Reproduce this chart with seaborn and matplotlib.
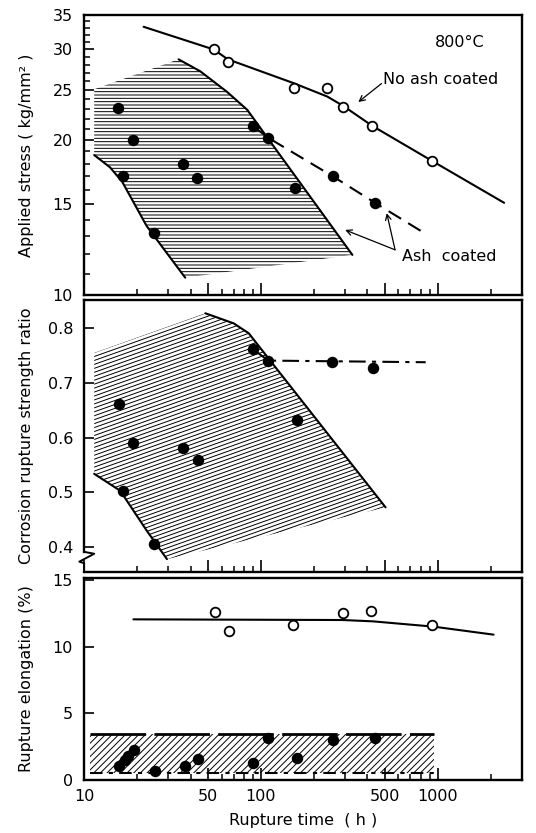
import numpy as np
import matplotlib.pyplot as plt
import seaborn as sns
from matplotlib.patches import Polygon, Rectangle
from matplotlib.collections import LineCollection
from matplotlib.ticker import FixedLocator, FixedFormatter, NullFormatter

sns.set_style("ticks")
plt.rcParams['font.family'] = ['DejaVu Sans']
plt.rcParams['hatch.linewidth'] = 0.7
plt.rcParams['hatch.color'] = 'black'
plt.rcParams['text.color'] = 'black'
plt.rcParams['axes.labelcolor'] = 'black'
plt.rcParams['axes.edgecolor'] = 'black'
plt.rcParams['xtick.color'] = 'black'
plt.rcParams['ytick.color'] = 'black'

# ---- top panel: applied stress
t_open = [54, 65, 153, 237, 292, 427, 933]
stress_open = [30.0, 28.4, 25.3, 25.3, 23.2, 21.3, 18.2]
t_open_curve = [21.7, 54, 65, 153, 237, 292, 427, 933, 2375]
stress_open_curve = [33.2, 30.0, 28.7, 25.8, 24.3, 23.3, 21.3, 18.2, 15.1]

t_ash = [15.6, 18.8, 16.6, 24.9, 36.2, 43.5, 90, 110, 155, 255, 442]
stress_ash = [23.1, 20.0, 17.0, 13.2, 18.0, 16.9, 21.3, 20.2, 16.1, 17.0, 15.1]
t_ash_curve = [90, 110, 255, 442, 836]
stress_ash_curve = [21.3, 20.2, 17.0, 15.1, 13.2]

band_top_t = [11.4, 34.2, 45.4, 64.4, 83.6, 329, 37.3, 22.6, 16.4, 14.0, 11.4]
band_top_s = [25.1, 28.7, 27.2, 24.8, 22.9, 11.96, 10.8, 13.6, 16.6, 17.7, 18.7]
band_top_right_t = [34.2, 45.4, 64.4, 83.6, 329]
band_top_right_s = [28.7, 27.2, 24.8, 22.9, 11.96]
band_top_left_t = [11.4, 14.0, 16.4, 22.6, 37.3]
band_top_left_s = [18.7, 17.7, 16.6, 13.6, 10.8]

# ---- middle panel: corrosion rupture strength ratio
t_ratio = [15.8, 19.0, 16.6, 24.9, 36.2, 43.8, 90, 110, 160, 253, 430]
ratio = [0.661, 0.591, 0.502, 0.406, 0.581, 0.560, 0.762, 0.741, 0.633, 0.739, 0.728]
t_ratio_curve = [90, 110, 855]
ratio_curve = [0.762, 0.741, 0.738]

band_mid_t = [11.4, 48.5, 70.2, 85.3, 507, 29.4, 22.6, 16.0, 11.4]
band_mid_r = [0.755, 0.8275, 0.809, 0.791, 0.4727, 0.378, 0.43, 0.503, 0.534]
band_mid_right_t = [48.5, 70.2, 85.3, 507]
band_mid_right_r = [0.8275, 0.809, 0.791, 0.4727]
band_mid_left_t = [11.4, 16.0, 22.6, 29.4]
band_mid_left_r = [0.534, 0.503, 0.43, 0.378]

# ---- bottom panel: rupture elongation
t_elong_open = [55, 66, 151, 292, 421, 925]
elong_open = [12.6, 11.2, 11.6, 12.5, 12.7, 11.6]
t_elong_curve = [19, 290, 430, 950, 2070]
elong_curve = [12.05, 12.0, 11.9, 11.5, 10.9]

t_elong_ash = [15.8, 17.0, 17.8, 19.2, 25.2, 37.0, 43.8, 89.8, 110, 160, 255, 440]
elong_ash = [1.0, 1.5, 1.8, 2.2, 0.62, 1.05, 1.58, 1.25, 3.17, 1.63, 3.0, 3.13]
band_bot_t = [10.8, 950]
band_bot_e = [0.5, 3.4]

fig = plt.figure(figsize=(5.36, 8.33), dpi=100)
ax1 = fig.add_axes([0.157, 0.646, 0.817, 0.336])
ax2 = fig.add_axes([0.157, 0.313, 0.817, 0.327])
ax3 = fig.add_axes([0.157, 0.064, 0.817, 0.242])

lw = 1.5
fs = 11.5
for ax in (ax1, ax2, ax3):
    ax.set_xscale('log')
    ax.set_xlim(10, 3000)
    ax.xaxis.set_major_locator(FixedLocator([10, 50, 100, 500, 1000]))
    ax.xaxis.set_minor_locator(FixedLocator([20, 30, 40, 60, 70, 80, 90, 200, 300, 400,
                                             600, 700, 800, 900, 2000]))
    ax.xaxis.set_minor_formatter(NullFormatter())
    ax.tick_params(axis='x', which='major', direction='in', length=9, width=1.2,
                   labelsize=fs, pad=7)
    ax.tick_params(axis='x', which='minor', direction='in', length=4.5, width=1.1)
    ax.tick_params(axis='y', which='major', direction='in', length=7, width=1.2,
                   labelsize=fs, pad=8)
    ax.tick_params(axis='y', which='minor', direction='in', length=4.5, width=1.1)
    for sp in ax.spines.values():
        sp.set_linewidth(1.7)
    if ax is not ax3:
        ax.xaxis.set_major_formatter(NullFormatter())
    else:
        ax.xaxis.set_major_formatter(FixedFormatter(['10', '50', '100', '500', '1000']))

# ---------- top
ax1.set_yscale('log')
ax1.set_ylim(10, 35)
ax1.yaxis.set_major_locator(FixedLocator([10, 15, 20, 25, 30, 35]))
ax1.yaxis.set_major_formatter(FixedFormatter(['10', '15', '20', '25', '30', '35']))
ax1.yaxis.set_minor_locator(FixedLocator([v for v in range(11, 35) if v % 5 != 0]))
ax1.yaxis.set_minor_formatter(NullFormatter())

poly1 = Polygon(np.column_stack([band_top_t, band_top_s]), closed=True,
                facecolor='none', edgecolor='black', linewidth=0, hatch='-----')
ax1.add_patch(poly1)
ax1.plot(band_top_right_t, band_top_right_s, color='black', lw=lw)
ax1.plot(band_top_left_t, band_top_left_s, color='black', lw=lw)

ax1.plot(t_open_curve, stress_open_curve, color='black', lw=lw)
l = ax1.plot(t_ash_curve, stress_ash_curve, color='black', lw=lw)[0]
l.set_dashes((7, 4))
sns.scatterplot(x=t_open, y=stress_open, ax=ax1, color='white', edgecolor='black',
                linewidth=1.3, s=48, zorder=3)
sns.scatterplot(x=t_ash, y=stress_ash, ax=ax1, color='black', edgecolor='black',
                linewidth=0, s=68, zorder=3)

ax1.text(0.80, 0.90, '800°C', transform=ax1.transAxes, fontsize=fs, va='center')
ax1.text(0.683, 0.768, 'No ash coated', transform=ax1.transAxes, fontsize=fs, va='center')
ax1.text(0.725, 0.137, 'Ash  coated', transform=ax1.transAxes, fontsize=fs, va='center')
arrow = dict(arrowstyle='->', color='black', lw=0.9, shrinkA=0, shrinkB=0)
ax1.annotate('', xy=(0.626, 0.689), xytext=(0.679, 0.755), xycoords='axes fraction',
             arrowprops=arrow)
ax1.annotate('', xy=(0.596, 0.232), xytext=(0.710, 0.161), xycoords='axes fraction',
             arrowprops=arrow)
ax1.annotate('', xy=(0.691, 0.292), xytext=(0.710, 0.161), xycoords='axes fraction',
             arrowprops=arrow)
ax1.set_ylabel('Applied stress ( kg/mm² )', fontsize=fs)
ax1.yaxis.set_label_coords(-0.115, 0.5)

# ---------- middle
ax2.set_ylim(0.354, 0.852)
ax2.yaxis.set_major_locator(FixedLocator([0.4, 0.5, 0.6, 0.7, 0.8]))
ax2.yaxis.set_major_formatter(FixedFormatter(['0.4', '0.5', '0.6', '0.7', '0.8']))

poly2 = Polygon(np.column_stack([band_mid_t, band_mid_r]), closed=True,
                facecolor='none', edgecolor='none')
ax2.add_patch(poly2)
# slanted hatch lines, built in axes fraction and clipped to the band
slope = 0.57
segs = [[(0, c), (1, c + slope)] for c in np.arange(-0.7, 1.0, 0.0145)]
hatch = LineCollection(segs, colors='black', linewidths=0.7, transform=ax2.transAxes)
ax2.add_collection(hatch)
hatch.set_clip_path(poly2)
ax2.plot(band_mid_right_t, band_mid_right_r, color='black', lw=lw)
ax2.plot(band_mid_left_t, band_mid_left_r, color='black', lw=lw)

l = ax2.plot(t_ratio_curve, ratio_curve, color='black', lw=lw)[0]
l.set_dashes((8, 3, 2, 3))
sns.scatterplot(x=t_ratio, y=ratio, ax=ax2, color='black', edgecolor='black',
                linewidth=0, s=68, zorder=3)
ax2.set_ylabel('Corrosion rupture strength ratio', fontsize=fs)
ax2.yaxis.set_label_coords(-0.115, 0.5)

# axis break on the left spine
ax2.spines['left'].set_bounds(0.391, 0.852)
ax2.plot([0, 0.023, -0.011, 0, 0], [0.075, 0.068, 0.039, 0.033, 0.0],
         transform=ax2.transAxes, color='black', lw=1.4, clip_on=False)

# ---------- bottom
ax3.set_ylim(0, 15.15)
ax3.yaxis.set_major_locator(FixedLocator([0, 5, 10, 15]))
ax3.yaxis.set_major_formatter(FixedFormatter(['0', '5', '10', '15']))

rect = Rectangle((band_bot_t[0], band_bot_e[0]), band_bot_t[1] - band_bot_t[0],
                 band_bot_e[1] - band_bot_e[0], facecolor='none', edgecolor='black',
                 linewidth=0, hatch='/////')
ax3.add_patch(rect)
l = ax3.plot(band_bot_t, [band_bot_e[1]] * 2, color='black', lw=2)[0]
l.set_dashes((20, 3))
l = ax3.plot(band_bot_t, [band_bot_e[0]] * 2, color='black', lw=1.5)[0]
l.set_dashes((6, 3, 2, 3))

ax3.plot(t_elong_curve, elong_curve, color='black', lw=lw)
sns.scatterplot(x=t_elong_open, y=elong_open, ax=ax3, color='white', edgecolor='black',
                linewidth=1.3, s=48, zorder=3)
sns.scatterplot(x=t_elong_ash, y=elong_ash, ax=ax3, color='black', edgecolor='black',
                linewidth=0, s=68, zorder=3)
ax3.set_ylabel('Rupture elongation (%)', fontsize=fs)
ax3.yaxis.set_label_coords(-0.115, 0.5)
ax3.set_xlabel('Rupture time  ( h )', fontsize=fs, labelpad=6)

fig.savefig('out.png', dpi=100)
